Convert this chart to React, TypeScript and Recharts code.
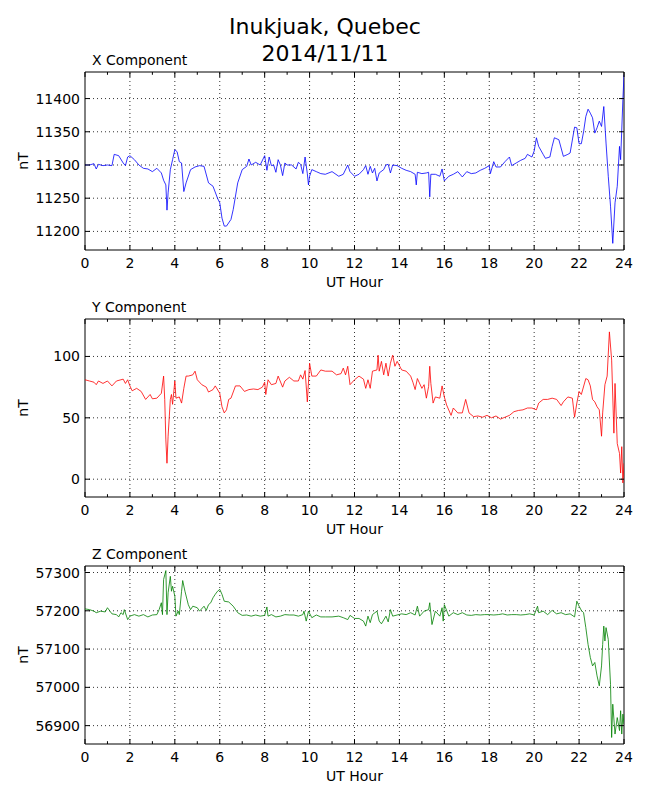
import { LineChart, Line, XAxis, YAxis, ReferenceLine, ReferenceArea } from 'recharts'

const HOUR_TICKS = [0, 1, 2, 3, 4, 5, 6, 7, 8, 9, 10, 11, 12, 13, 14, 15, 16, 17, 18, 19, 20, 21, 22, 23, 24]
const GRID_HOURS = [2, 4, 6, 8, 10, 12, 14, 16, 18, 20, 22]

const X_TICKS = [11200, 11250, 11300, 11350, 11400]
const Y_TICKS = [0, 50, 100]
const Z_TICKS = [56900, 57000, 57100, 57200, 57300]

const xHours = [
  0, 0.2, 0.4, 0.5, 0.6, 0.8, 1.0, 1.2, 1.3, 1.5,
  1.7, 1.8, 1.9, 2.0, 2.2, 2.4, 2.6, 2.8, 3.0, 3.2,
  3.4, 3.5, 3.6, 3.65, 3.7, 3.8, 3.9, 4.0, 4.1, 4.2,
  4.3, 4.4, 4.5, 4.7, 4.9, 5.1, 5.3, 5.5, 5.7, 5.9,
  6.0, 6.1, 6.2, 6.3, 6.5, 6.6, 6.8, 7.0, 7.2, 7.3,
  7.4, 7.6, 7.8, 8.0, 8.1, 8.2, 8.3, 8.4, 8.5, 8.6,
  8.7, 8.8, 8.9, 9.0, 9.2, 9.4, 9.5, 9.6, 9.7, 9.8,
  9.9, 9.95, 10.0, 10.1, 10.3, 10.5, 10.7, 11.0, 11.3, 11.5,
  11.7, 11.8, 12.0, 12.2, 12.4, 12.5, 12.6, 12.7, 12.8, 12.9,
  13.0, 13.1, 13.3, 13.4, 13.5, 13.6, 13.7, 13.9, 14.1, 14.3,
  14.5, 14.7, 14.75, 14.8, 15.0, 15.2, 15.3, 15.35, 15.4, 15.6,
  15.8, 15.9, 16.0, 16.2, 16.4, 16.6, 16.8, 17.0, 17.2, 17.4,
  17.6, 17.8, 18.0, 18.05, 18.2, 18.3, 18.5, 18.7, 18.9, 19.0,
  19.2, 19.4, 19.6, 19.7, 19.9, 20.0, 20.1, 20.2, 20.4, 20.5,
  20.7, 20.8, 20.9, 21.1, 21.3, 21.5, 21.6, 21.8, 21.9, 22.0,
  22.1, 22.2, 22.3, 22.4, 22.5, 22.6, 22.7, 22.8, 22.9, 23.0,
  23.1, 23.2, 23.3, 23.4, 23.5, 23.6, 23.7, 23.8, 23.85, 23.95,
  24.0,
]
const xValues = [
  11300, 11300, 11302, 11294, 11301, 11299, 11300, 11299, 11316, 11314,
  11303, 11299, 11312, 11314, 11308, 11300, 11295, 11294, 11290, 11295,
  11288, 11277, 11270, 11232, 11258, 11293, 11308, 11323, 11320, 11305,
  11303, 11260, 11273, 11293, 11297, 11299, 11298, 11273, 11268, 11250,
  11243, 11220, 11208, 11208, 11218, 11233, 11273, 11293, 11298, 11309,
  11300, 11304, 11300, 11314, 11292, 11312, 11299, 11300, 11289, 11308,
  11300, 11284, 11303, 11300, 11300, 11294, 11304, 11301, 11287, 11312,
  11287, 11270, 11283, 11293, 11290, 11287, 11286, 11290, 11283, 11286,
  11300, 11290, 11283, 11286, 11293, 11299, 11286, 11298, 11288, 11295,
  11276, 11288, 11293, 11300, 11301, 11288, 11300, 11299, 11295, 11292,
  11290, 11286, 11270, 11289, 11287, 11288, 11289, 11252, 11286, 11286,
  11283, 11294, 11276, 11283, 11286, 11290, 11282, 11290, 11287, 11288,
  11292, 11295, 11299, 11287, 11305, 11297, 11297, 11305, 11312, 11299,
  11303, 11307, 11310, 11316, 11312, 11321, 11341, 11328, 11316, 11310,
  11312, 11328, 11341, 11338, 11313, 11316, 11318, 11357, 11356, 11332,
  11332, 11350, 11373, 11384, 11378, 11371, 11348, 11356, 11366, 11358,
  11388, 11333, 11283, 11238, 11182, 11243, 11268, 11328, 11308, 11398,
  11436,
]

const yHours = [
  0, 0.2, 0.4, 0.5, 0.6, 0.8, 1.0, 1.2, 1.4, 1.6,
  1.7, 1.8, 1.9, 2.0, 2.1, 2.3, 2.5, 2.7, 2.9, 3.0,
  3.2, 3.4, 3.5, 3.55, 3.6, 3.65, 3.7, 3.8, 3.85, 3.9,
  4.0, 4.05, 4.2, 4.3, 4.4, 4.5, 4.6, 4.8, 4.9, 5.0,
  5.2, 5.4, 5.5, 5.7, 5.8, 6.0, 6.1, 6.2, 6.3, 6.4,
  6.5, 6.7, 6.9, 7.1, 7.3, 7.5, 7.7, 7.9, 8.0, 8.05,
  8.15, 8.3, 8.5, 8.6, 8.8, 8.9, 9.1, 9.3, 9.5, 9.6,
  9.7, 9.8, 9.9, 10.0, 10.1, 10.3, 10.5, 10.7, 11.0, 11.2,
  11.4, 11.5, 11.6, 11.7, 11.8, 12.0, 12.2, 12.4, 12.5, 12.6,
  12.7, 12.8, 13.0, 13.05, 13.1, 13.2, 13.3, 13.4, 13.5, 13.6,
  13.7, 13.8, 13.9, 14.1, 14.3, 14.5, 14.6, 14.7, 14.8, 15.0,
  15.1, 15.2, 15.3, 15.35, 15.4, 15.5, 15.6, 15.8, 15.9, 16.0,
  16.1, 16.3, 16.4, 16.6, 16.8, 16.95, 17.1, 17.3, 17.5, 17.7,
  17.9, 18.1, 18.3, 18.5, 18.7, 18.9, 19.1, 19.3, 19.5, 19.7,
  19.9, 20.1, 20.2, 20.4, 20.6, 20.8, 21.0, 21.2, 21.3, 21.5,
  21.7, 21.8, 21.9, 22.0, 22.1, 22.3, 22.4, 22.5, 22.6, 22.7,
  22.8, 22.9, 23.0, 23.05, 23.15, 23.25, 23.35, 23.45, 23.55, 23.6,
  23.7, 23.8, 23.85, 23.9, 23.95, 24.0,
]
const yValues = [
  81, 80, 79, 77, 80, 78, 80, 76, 80, 81,
  81.5, 78, 81, 76, 72, 74, 71.5, 65, 69, 65.5,
  66, 70, 84, 65, 32, 13, 35, 65, 69, 61,
  80, 66, 67, 62, 74, 84, 84, 85, 88, 81,
  77, 75, 71, 73, 76, 70, 59, 54, 56.5, 65,
  66, 76, 76, 71.5, 73, 73.5, 73, 75, 79, 69,
  81, 77, 78, 84, 75, 80, 83, 80, 80, 85,
  81.5, 88.5, 63, 94.5, 84, 84, 89, 88, 88, 85,
  86, 90.5, 85, 92, 77, 81, 84, 81.5, 74, 81,
  74, 88, 89, 101, 88, 96, 85, 94.5, 84, 94.5,
  101, 92, 96, 89, 88, 84, 79, 73, 82, 74,
  77, 66, 75.5, 92, 78, 62, 67, 66, 76, 67,
  60.5, 52, 58, 54, 54, 65, 54, 51, 51.5, 50.5,
  52, 50, 51.5, 49, 50.5, 52, 55, 56, 56.5, 58,
  58, 56.5, 62, 65, 65, 66, 65, 60, 63, 67,
  66, 50.5, 62, 71.5, 69, 82, 81, 76, 65, 63,
  59, 56.5, 35, 54, 77, 84, 120, 97, 37.5, 78,
  29, 21, 5, 26.5, -3, 13,
]

const zHours = [
  0, 0.2, 0.4, 0.5, 0.7, 0.9, 1.0, 1.2, 1.4, 1.5,
  1.6, 1.7, 1.75, 1.9, 2.0, 2.2, 2.4, 2.6, 2.8, 3.0,
  3.2, 3.3, 3.4, 3.45, 3.5, 3.6, 3.65, 3.7, 3.8, 3.85,
  3.9, 4.0, 4.05, 4.15, 4.2, 4.3, 4.35, 4.45, 4.6, 4.7,
  4.8, 5.0, 5.1, 5.3, 5.4, 5.5, 5.6, 5.7, 5.8, 5.9,
  6.0, 6.1, 6.2, 6.4, 6.6, 6.8, 7.0, 7.2, 7.4, 7.6,
  7.8, 8.0, 8.1, 8.15, 8.3, 8.5, 8.7, 8.9, 9.1, 9.3,
  9.5, 9.7, 9.75, 9.85, 9.95, 10.1, 10.3, 10.5, 10.7, 11.0,
  11.3, 11.5, 11.7, 11.8, 12.0, 12.2, 12.4, 12.5, 12.6, 12.7,
  12.8, 13.0, 13.1, 13.2, 13.4, 13.5, 13.6, 13.7, 13.9, 14.1,
  14.3, 14.5, 14.7, 14.8, 14.9, 15.1, 15.3, 15.35, 15.45, 15.6,
  15.8, 15.9, 15.95, 16.0, 16.2, 16.4, 16.6, 16.8, 17.0, 17.2,
  17.4, 17.6, 17.8, 18.0, 18.2, 18.4, 18.6, 18.8, 19.0, 19.2,
  19.4, 19.6, 19.8, 20.0, 20.15, 20.2, 20.4, 20.6, 20.8, 21.0,
  21.2, 21.4, 21.6, 21.8, 21.9, 22.0, 22.1, 22.2, 22.3, 22.4,
  22.5, 22.6, 22.7, 22.8, 22.9, 23.0, 23.05, 23.1, 23.15, 23.2,
  23.3, 23.4, 23.45, 23.5, 23.6, 23.7, 23.8, 23.85, 23.9, 23.95,
  24.0,
]
const zValues = [
  57205, 57203, 57199, 57195, 57199, 57197, 57208, 57192, 57190, 57184,
  57195, 57190, 57203, 57177, 57186, 57190, 57186, 57190, 57184, 57189,
  57190, 57203, 57221, 57190, 57282, 57305, 57190, 57247, 57290, 57251,
  57264, 57238, 57186, 57199, 57190, 57251, 57279, 57251, 57216, 57203,
  57212, 57208, 57199, 57212, 57201, 57216, 57221, 57234, 57243, 57251,
  57256, 57243, 57225, 57223, 57212, 57195, 57188, 57189, 57186, 57189,
  57186, 57188, 57210, 57186, 57190, 57184, 57186, 57190, 57189, 57189,
  57186, 57190, 57199, 57173, 57199, 57182, 57189, 57184, 57184, 57184,
  57186, 57182, 57177, 57188, 57180, 57180, 57173, 57160, 57186, 57169,
  57190, 57199, 57173, 57166, 57186, 57171, 57203, 57186, 57189, 57192,
  57190, 57195, 57189, 57212, 57186, 57199, 57203, 57221, 57164, 57199,
  57186, 57208, 57173, 57216, 57186, 57195, 57190, 57195, 57189, 57188,
  57190, 57189, 57190, 57190, 57189, 57190, 57192, 57189, 57190, 57190,
  57189, 57190, 57192, 57189, 57212, 57195, 57199, 57190, 57201, 57192,
  57195, 57190, 57192, 57184, 57225, 57212, 57201, 57195, 57156, 57112,
  57078, 57056, 57065, 57030, 57004, 57056, 57112, 57160, 57121, 57156,
  57125, 57008, 56869, 56956, 56878, 56921, 56887, 56939, 56878, 56930,
  56904,
]

const FONT = '"DejaVu Sans", sans-serif'
const PLOT_LEFT = 85
const PLOT_W = 539
const PLOT_H = 178
const TOP_PAD = 30
const BOTTOM_PAD = 50

function HourTick({ x, y, payload }: any) {
  const major = payload.value % 2 === 0
  const len = major ? 5 : 2.8
  return (
    <g>
      <line x1={x} x2={x} y1={y} y2={y - len} stroke="#000" strokeWidth={1} />
      <line x1={x} x2={x} y1={y - PLOT_H} y2={y - PLOT_H + len} stroke="#000" strokeWidth={1} />
      {major && (
        <text x={x} y={y + 18} textAnchor="middle" fontSize={14} fontFamily={FONT} fill="#000">
          {payload.value}
        </text>
      )}
    </g>
  )
}

function ValueTick({ x, y, payload }: any) {
  return (
    <g>
      <line x1={x} x2={x + 5} y1={y} y2={y} stroke="#000" strokeWidth={1} />
      <line x1={x + PLOT_W - 5} x2={x + PLOT_W} y1={y} y2={y} stroke="#000" strokeWidth={1} />
      <text x={x - 5} y={y} dy="0.36em" textAnchor="end" fontSize={14} fontFamily={FONT} fill="#000">
        {payload.value}
      </text>
    </g>
  )
}

type PanelProps = {
  title: string
  hours: number[]
  values: number[]
  color: string
  domain: [number, number]
  ticks: number[]
  plotTop: number
}

function Panel({ title, hours, values, color, domain, ticks, plotTop }: PanelProps) {
  const data = hours.map((h, i) => ({ h, v: values[i] }))
  const plotBottom = plotTop + PLOT_H

  return (
    <>
      <div style={{ position: 'absolute', left: 0, top: plotTop - TOP_PAD }}>
        <LineChart
          width={650}
          height={TOP_PAD + PLOT_H + BOTTOM_PAD}
          data={data}
          margin={{ top: TOP_PAD, right: 650 - PLOT_LEFT - PLOT_W, bottom: 0, left: 0 }}
        >
          <XAxis
            dataKey="h"
            type="number"
            domain={[0, 24]}
            ticks={HOUR_TICKS}
            interval={0}
            allowDataOverflow
            height={BOTTOM_PAD}
            tickSize={0}
            tickMargin={0}
            tickLine={false}
            axisLine={false}
            tick={(p: any) => <HourTick {...p} />}
          />
          <YAxis
            type="number"
            domain={domain}
            ticks={ticks}
            interval={0}
            allowDataOverflow
            width={PLOT_LEFT}
            tickSize={0}
            tickMargin={0}
            tickLine={false}
            axisLine={false}
            tick={(p: any) => <ValueTick {...p} />}
          />
          {GRID_HOURS.map((h) => (
            <ReferenceLine key={`gx${h}`} x={h} stroke="#000" strokeWidth={0.8} strokeDasharray="1 3" />
          ))}
          {ticks.map((t) => (
            <ReferenceLine key={`gy${t}`} y={t} stroke="#000" strokeWidth={0.8} strokeDasharray="1 3" />
          ))}
          <Line
            type="linear"
            dataKey="v"
            stroke={color}
            strokeWidth={0.8}
            dot={false}
            isAnimationActive={false}
          />
          <ReferenceArea x1={0} x2={24} y1={domain[0]} y2={domain[1]} fill="none" fillOpacity={0} stroke="#000" strokeWidth={1} />
        </LineChart>
      </div>
      <svg width={650} height={800} style={{ position: 'absolute', left: 0, top: 0, pointerEvents: 'none' }}>
        <text x={92} y={plotTop - 7} fontSize={14} fontFamily={FONT} fill="#000">
          {title}
        </text>
        <text x={PLOT_LEFT + PLOT_W / 2} y={plotBottom + 37} textAnchor="middle" fontSize={14} fontFamily={FONT} fill="#000">
          UT Hour
        </text>
        <text
          transform={`translate(28, ${plotTop + PLOT_H / 2}) rotate(-90)`}
          textAnchor="middle"
          fontSize={14}
          fontFamily={FONT}
          fill="#000"
        >
          nT
        </text>
      </svg>
    </>
  )
}

export default function App() {
  return (
    <div style={{ position: 'absolute', left: 0, top: 0, width: 650, height: 800, background: '#fff', fontFamily: FONT }}>
      <svg width={650} height={800} style={{ position: 'absolute', left: 0, top: 0 }}>
        <text x={325} y={34} textAnchor="middle" fontSize={22} fontFamily={FONT} fill="#000">
          Inukjuak, Quebec
        </text>
        <text x={325} y={61} textAnchor="middle" fontSize={22} fontFamily={FONT} fill="#000">
          2014/11/11
        </text>
      </svg>
      <Panel title="X Component" hours={xHours} values={xValues} color="#0000ff" domain={[11172, 11440]} ticks={X_TICKS} plotTop={72} />
      <Panel title="Y Component" hours={yHours} values={yValues} color="#ff0000" domain={[-14.5, 130.5]} ticks={Y_TICKS} plotTop={319} />
      <Panel title="Z Component" hours={zHours} values={zValues} color="#008000" domain={[56852, 57317]} ticks={Z_TICKS} plotTop={566} />
    </div>
  )
}
